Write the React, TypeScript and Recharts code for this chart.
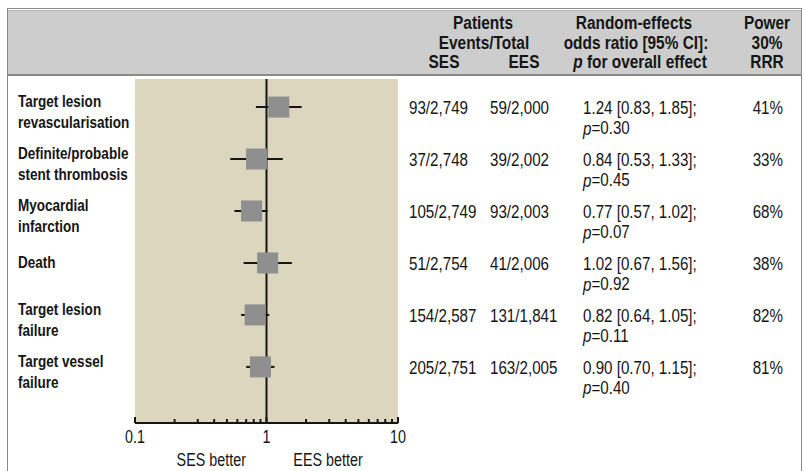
import React from 'react'
import {
  ScatterChart,
  Scatter,
  XAxis,
  YAxis,
  CartesianGrid,
  ErrorBar,
  ReferenceLine,
  Label,
} from 'recharts'

// outcomes, one per row, top to bottom ('\n' marks the label line break)
const outcomes = [
  'Target lesion\nrevascularisation',
  'Definite/probable\nstent thrombosis',
  'Myocardial\ninfarction',
  'Death',
  'Target lesion\nfailure',
  'Target vessel\nfailure',
]
const oddsRatios = [1.24, 0.84, 0.77, 1.02, 0.82, 0.9]
const ciLow = [0.83, 0.53, 0.57, 0.67, 0.64, 0.7]
const ciHigh = [1.85, 1.33, 1.02, 1.56, 1.05, 1.15]
const sesEvents = ['93/2,749', '37/2,748', '105/2,749', '51/2,754', '154/2,587', '205/2,751']
const eesEvents = ['59/2,000', '39/2,002', '93/2,003', '41/2,006', '131/1,841', '163/2,005']
const pValues = ['0.30', '0.45', '0.07', '0.92', '0.11', '0.40']
const powerRRR = ['41%', '33%', '68%', '38%', '82%', '81%']

// log axis ticks; only the decades get a label
const axisTicks = [0.1, 0.2, 0.3, 0.4, 0.5, 0.6, 0.7, 0.8, 0.9, 1, 2, 3, 4, 5, 6, 7, 8, 9, 10]
const labelledTicks = [0.1, 1, 10]

const rows = outcomes.map((name, i) => ({
  name,
  pos: i,
  or: oddsRatios[i],
  err: [oddsRatios[i] - ciLow[i], ciHigh[i] - oddsRatios[i]],
}))

// no condensed face installed, so squeeze Liberation Sans horizontally
const FONT = '"Liberation Sans", Arial, sans-serif'
const SQUEEZE = 0.82
const INK = '#151515'
const BEIGE = '#dcd6bf'
const BOX = '#8f8f8f'

interface TickProps {
  x?: number
  y?: number
  payload?: { value: number }
}

interface NarrowProps {
  x: number
  y: number
  anchor?: 'start' | 'middle' | 'end'
  size: number
  bold?: boolean
  children: React.ReactNode
}

function Narrow({ x, y, anchor = 'start', size, bold, children }: NarrowProps) {
  return (
    <text
      x={x}
      y={y}
      transform={`matrix(${SQUEEZE},0,0,1,${x * (1 - SQUEEZE)},0)`}
      textAnchor={anchor}
      dominantBaseline="central"
      fontSize={size}
      fontWeight={bold ? 700 : 400}
      fill={INK}
      fontFamily={FONT}
    >
      {children}
    </text>
  )
}

function SquareMarker(props: unknown) {
  const { cx = 0, cy = 0 } = props as { cx?: number; cy?: number }
  const s = 21
  return <rect x={cx - s / 2} y={cy - s / 2} width={s} height={s} fill={BOX} />
}

function LogTick({ x = 0, y = 0, payload }: TickProps) {
  const v = payload?.value ?? 0
  const major = labelledTicks.includes(v)
  return (
    <g>
      <line x1={x} x2={x} y1={y} y2={y - (major ? 6 : 4)} stroke={INK} strokeWidth={2} />
      {major && (
        <Narrow x={x} y={y + 14} anchor="middle" size={17.5}>
          {v}
        </Narrow>
      )}
    </g>
  )
}

function OutcomeTick({ y = 0, payload }: TickProps) {
  const idx = payload?.value ?? 0
  const lines = outcomes[idx].split('\n')
  const startY = lines.length > 1 ? y - 6 : y - 1
  return (
    <g>
      {lines.map((ln, k) => (
        <Narrow key={k} x={18} y={startY + k * 21} size={16.5} bold>
          {ln}
        </Narrow>
      ))}
    </g>
  )
}

function TableTick({ y = 0, payload }: TickProps) {
  const i = payload?.value ?? 0
  const orText = `${oddsRatios[i].toFixed(2)} [${ciLow[i].toFixed(2)}, ${ciHigh[i].toFixed(2)}];`
  return (
    <g>
      <Narrow x={409} y={y + 1} size={18.5}>{sesEvents[i]}</Narrow>
      <Narrow x={490} y={y + 1} size={18.5}>{eesEvents[i]}</Narrow>
      <Narrow x={583} y={y + 1} size={18.5}>{orText}</Narrow>
      <Narrow x={583} y={y + 21} size={18.5}>
        <tspan fontStyle="italic">p</tspan>={pValues[i]}
      </Narrow>
      <Narrow x={783} y={y + 1} size={18.5} anchor="end">{powerRRR[i]}</Narrow>
    </g>
  )
}

function FavourLabels(props: unknown) {
  const { viewBox } = props as { viewBox?: { x: number; y: number; width: number } }
  if (!viewBox) return null
  const { x, y, width } = viewBox
  return (
    <g>
      <Narrow x={x + width * 0.29} y={y + 37} anchor="middle" size={17.5}>SES better</Narrow>
      <Narrow x={x + width * 0.734} y={y + 37} anchor="middle" size={17.5}>EES better</Narrow>
    </g>
  )
}

function HeadText({ cx, cy, children }: { cx: number; cy: number; children: React.ReactNode }) {
  return (
    <div
      style={{
        position: 'absolute',
        left: cx,
        top: cy - 10,
        transform: `translateX(-50%) scaleX(${SQUEEZE})`,
        transformOrigin: 'center',
        whiteSpace: 'nowrap',
        lineHeight: '20px',
        fontSize: 18.8,
        fontWeight: 700,
        color: INK,
      }}
    >
      {children}
    </div>
  )
}

export default function App() {
  return (
    <div
      style={{
        position: 'absolute',
        left: 0,
        top: 0,
        width: 805,
        height: 471,
        overflow: 'hidden',
        background: '#fff',
        fontFamily: FONT,
      }}
    >
      <div
        style={{
          position: 'absolute',
          left: 7,
          top: 8,
          width: 795,
          height: 480,
          border: '1px solid #8a8a8a',
          boxSizing: 'border-box',
        }}
      />
      <div
        style={{
          position: 'absolute',
          left: 8,
          top: 10,
          width: 793,
          height: 66,
          background: '#cdcdcd',
          borderTop: '1px solid #b5b5b5',
          borderBottom: '2px solid #8a8a8a',
          boxSizing: 'border-box',
        }}
      />
      <HeadText cx={483} cy={23}>Patients</HeadText>
      <HeadText cx={484} cy={43}>Events/Total</HeadText>
      <HeadText cx={444} cy={62}>SES</HeadText>
      <HeadText cx={524} cy={62}>EES</HeadText>
      <HeadText cx={634} cy={23}>Random-effects</HeadText>
      <HeadText cx={636} cy={43}>odds ratio [95% CI]:</HeadText>
      <HeadText cx={640} cy={62}>
        <i>p</i> for overall effect
      </HeadText>
      <HeadText cx={767} cy={23}>Power</HeadText>
      <HeadText cx={767} cy={43}>30%</HeadText>
      <HeadText cx={767} cy={62}>RRR</HeadText>

      <div style={{ position: 'absolute', left: 0, top: 0 }}>
        <ScatterChart width={805} height={471} margin={{ top: 79, right: 7, bottom: 0, left: 8 }}>
          <CartesianGrid horizontal={false} vertical={false} fill={BEIGE} fillOpacity={1} />
          <XAxis
            dataKey="or"
            type="number"
            scale="log"
            domain={[0.1, 10]}
            ticks={axisTicks}
            interval={0}
            allowDataOverflow
            height={48}
            tickSize={0}
            tickMargin={0}
            tickLine={false}
            axisLine={{ stroke: INK, strokeWidth: 2 }}
            tick={<LogTick />}
          >
            <Label content={FavourLabels} />
          </XAxis>
          <YAxis
            dataKey="pos"
            type="number"
            domain={[-0.54, 6.08]}
            reversed
            ticks={rows.map((r) => r.pos)}
            interval={0}
            allowDataOverflow
            width={127}
            axisLine={false}
            tickLine={false}
            tick={<OutcomeTick />}
          />
          <YAxis
            yAxisId="table"
            orientation="right"
            type="number"
            domain={[-0.54, 6.08]}
            reversed
            ticks={rows.map((r) => r.pos)}
            interval={0}
            allowDataOverflow
            width={400}
            axisLine={false}
            tickLine={false}
            tick={<TableTick />}
          />
          <Scatter data={rows} shape={SquareMarker} isAnimationActive={false}>
            <ErrorBar dataKey="err" direction="x" width={0} stroke={INK} strokeWidth={2} />
          </Scatter>
          <ReferenceLine x={1} stroke={INK} strokeWidth={2} />
        </ScatterChart>
      </div>
    </div>
  )
}
